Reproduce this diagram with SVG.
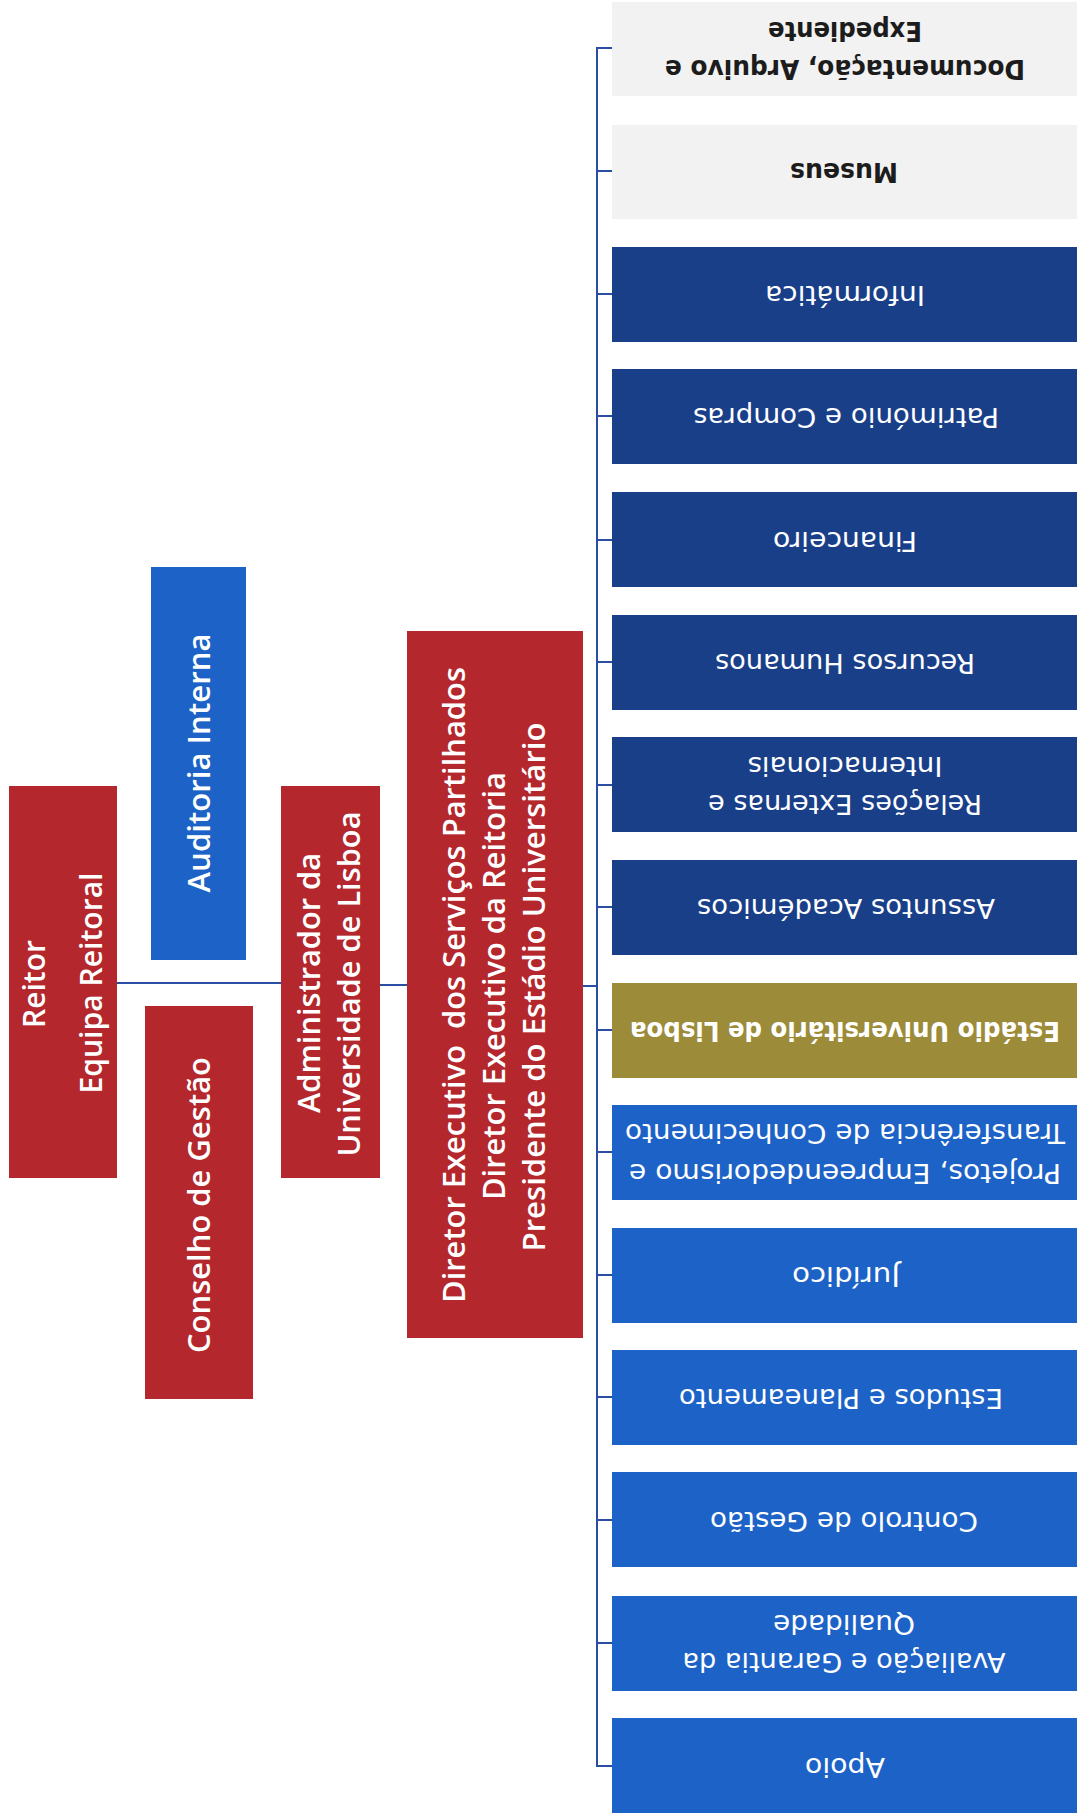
<svg xmlns="http://www.w3.org/2000/svg" width="1078" height="1818" viewBox="0 0 1078 1818">
<style>
.red{fill:#b3272d}
.blue{fill:#1d62c6}
.navy{fill:#1a3f89}
.gold{fill:#9c8b38}
.gray{fill:#f2f2f2}
.lt{font-family:"Open Sans","Liberation Sans",sans-serif;font-weight:600;font-size:30px;fill:#ffffff;text-anchor:middle}
.rt{font-family:"DejaVu Sans","Liberation Sans",sans-serif;font-size:26px;fill:#ffffff;text-anchor:middle}
.rb{font-weight:bold}
.dk{fill:#1c1c1c}
.conn{fill:none;stroke:#2a4ea3;stroke-width:2}
</style>
<rect width="1078" height="1818" fill="#ffffff"/>

<g id="connectors">
<path class="conn" d="M117 983 H281 M380 985 H407 M583 986 H597 M612 48 H597 V1766 H612 M597 171 H612 M597 294 H612 M597 416 H612 M597 540 H612 M597 662 H612 M597 785 H612 M597 907 H612 M597 1030 H612 M597 1152 H612 M597 1275 H612 M597 1397 H612 M597 1520 H612 M597 1643 H612"/>
</g>

<g id="reitor">
<rect class="red" x="9" y="786" width="108" height="392"/>
<text class="lt" transform="translate(45,984) rotate(-90)" textLength="88" lengthAdjust="spacingAndGlyphs">Reitor</text>
<text class="lt" transform="translate(102,983) rotate(-90)" textLength="221" lengthAdjust="spacingAndGlyphs">Equipa Reitoral</text>
</g>

<g id="auditoria">
<rect class="blue" x="151" y="567" width="95" height="393"/>
<text class="lt" transform="translate(210,763) rotate(-90)" textLength="259" lengthAdjust="spacingAndGlyphs">Auditoria Interna</text>
</g>

<g id="conselho">
<rect class="red" x="145" y="1006" width="108" height="393"/>
<text class="lt" transform="translate(210,1205) rotate(-90)" textLength="296" lengthAdjust="spacingAndGlyphs">Conselho de Gestão</text>
</g>

<g id="administrador">
<rect class="red" x="281" y="786" width="99" height="392"/>
<text class="lt" transform="translate(320,983) rotate(-90)" textLength="260" lengthAdjust="spacingAndGlyphs">Administrador da</text>
<text class="lt" transform="translate(360,984) rotate(-90)" textLength="345" lengthAdjust="spacingAndGlyphs">Universidade de Lisboa</text>
</g>

<g id="diretor">
<rect class="red" x="407" y="631" width="176" height="707"/>
<text class="lt" transform="translate(465,985) rotate(-90)" textLength="636" lengthAdjust="spacingAndGlyphs" xml:space="preserve">Diretor Executivo  dos Serviços Partilhados</text>
<text class="lt" transform="translate(505,986) rotate(-90)" textLength="428" lengthAdjust="spacingAndGlyphs">Diretor Executivo da Reitoria</text>
<text class="lt" transform="translate(545,987) rotate(-90)" textLength="529" lengthAdjust="spacingAndGlyphs">Presidente do Estádio Universitário</text>
</g>

<g id="documentacao">
<rect class="gray" x="612" y="2" width="465" height="94"/>
<g transform="translate(845,48) rotate(180)">
<text class="rt rb dk" y="-12" textLength="360" lengthAdjust="spacingAndGlyphs">Documentação, Arquivo e</text>
<text class="rt rb dk" y="26" textLength="154" lengthAdjust="spacingAndGlyphs">Expediente</text>
</g>
</g>

<g id="museus">
<rect class="gray" x="612" y="125" width="465" height="94"/>
<text class="rt rb dk" transform="translate(844,171) rotate(180)" y="8" textLength="108" lengthAdjust="spacingAndGlyphs">Museus</text>
</g>

<g id="informatica">
<rect class="navy" x="612" y="247" width="465" height="95"/>
<text class="rt" transform="translate(845,294) rotate(180)" y="8" textLength="160" lengthAdjust="spacingAndGlyphs">Informática</text>
</g>

<g id="patrimonio">
<rect class="navy" x="612" y="369" width="465" height="95"/>
<text class="rt" transform="translate(846,416) rotate(180)" y="8" textLength="306" lengthAdjust="spacingAndGlyphs">Património e Compras</text>
</g>

<g id="financeiro">
<rect class="navy" x="612" y="492" width="465" height="95"/>
<text class="rt" transform="translate(845,540) rotate(180)" y="8" textLength="144" lengthAdjust="spacingAndGlyphs">Financeiro</text>
</g>

<g id="recursos-humanos">
<rect class="navy" x="612" y="615" width="465" height="95"/>
<text class="rt" transform="translate(845,662) rotate(180)" y="8" textLength="260" lengthAdjust="spacingAndGlyphs">Recursos Humanos</text>
</g>

<g id="relacoes-externas">
<rect class="navy" x="612" y="737" width="465" height="95"/>
<g transform="translate(845,785) rotate(180)">
<text class="rt" y="-10" textLength="274" lengthAdjust="spacingAndGlyphs">Relações Externas e</text>
<text class="rt" y="28" textLength="195" lengthAdjust="spacingAndGlyphs">Internacionais</text>
</g>
</g>

<g id="assuntos-academicos">
<rect class="navy" x="612" y="860" width="465" height="95"/>
<text class="rt" transform="translate(846,907) rotate(180)" y="8" textLength="298" lengthAdjust="spacingAndGlyphs">Assuntos Académicos</text>
</g>

<g id="estadio">
<rect class="gold" x="612" y="983" width="465" height="95"/>
<text class="rt rb" transform="translate(845,1030) rotate(180)" y="8" textLength="430" lengthAdjust="spacingAndGlyphs">Estádio Universitário de Lisboa</text>
</g>

<g id="projetos">
<rect class="blue" x="612" y="1105" width="465" height="95"/>
<g transform="translate(845,1152) rotate(180)">
<text class="rt" y="-12" textLength="432" lengthAdjust="spacingAndGlyphs">Projetos, Empreendedorismo e</text>
<text class="rt" y="28" textLength="440" lengthAdjust="spacingAndGlyphs">Transferência de Conhecimento</text>
</g>
</g>

<g id="juridico">
<rect class="blue" x="612" y="1228" width="465" height="95"/>
<text class="rt" transform="translate(846,1275) rotate(180)" y="8" textLength="108" lengthAdjust="spacingAndGlyphs">Jurídico</text>
</g>

<g id="estudos">
<rect class="blue" x="612" y="1350" width="465" height="95"/>
<text class="rt" transform="translate(841,1397) rotate(180)" y="8" textLength="324" lengthAdjust="spacingAndGlyphs">Estudos e Planeamento</text>
</g>

<g id="controlo">
<rect class="blue" x="612" y="1472" width="465" height="95"/>
<text class="rt" transform="translate(844,1520) rotate(180)" y="8" textLength="268" lengthAdjust="spacingAndGlyphs">Controlo de Gestão</text>
</g>

<g id="avaliacao">
<rect class="blue" x="612" y="1596" width="465" height="95"/>
<g transform="translate(844,1643) rotate(180)">
<text class="rt" y="-10" textLength="323" lengthAdjust="spacingAndGlyphs">Avaliação e Garantia da</text>
<text class="rt" y="28" textLength="142" lengthAdjust="spacingAndGlyphs">Qualidade</text>
</g>
</g>

<g id="apoio">
<rect class="blue" x="612" y="1718" width="465" height="95"/>
<text class="rt" transform="translate(845,1766) rotate(180)" y="8" textLength="80" lengthAdjust="spacingAndGlyphs">Apoio</text>
</g>
</svg>
